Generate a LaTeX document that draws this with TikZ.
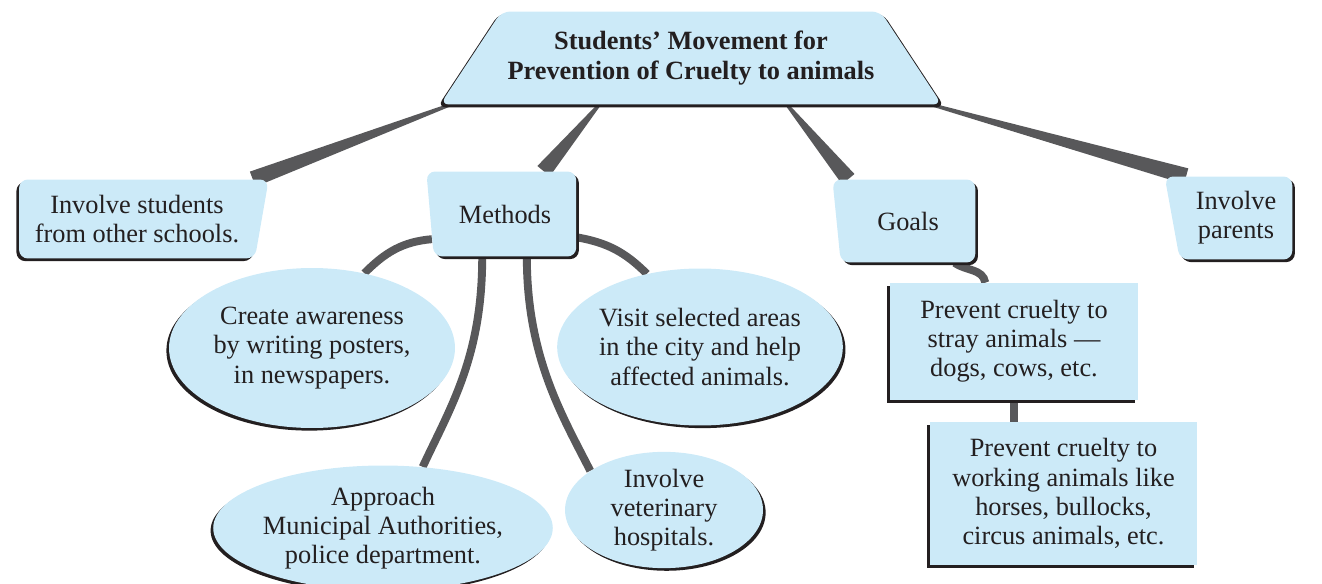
\documentclass[tikz,border=0pt]{standalone}
\usepackage{fontspec}
\setmainfont{Liberation Serif}
\usepackage{tikz}
\usetikzlibrary{shapes.geometric,shadows,backgrounds,calc}
\definecolor{cielo}{HTML}{CCEAF8}
\definecolor{tinta}{HTML}{231F20}
\definecolor{banda}{HTML}{58585A}

% tapered band: thin at the first anchor, wide at the second
\newcommand{\cuna}[2]{%
  \fill[banda] ($(#1)!0.9pt!90:(#2)$) -- ($(#1)!0.9pt!-90:(#2)$)
    -- ($(#2)!4.6pt!90:(#1)$) -- ($(#2)!4.6pt!-90:(#1)$) -- cycle;}

\begin{document}
\begin{tikzpicture}[x=0.02cm, y=-0.02cm,
      font=\fontsize{15}{16.6}\selectfont, text=tinta,
      base/.style={fill=cielo, inner sep=0pt, align=center},
      shl/.style={drop shadow={shadow xshift=-1.5pt, shadow yshift=-1.5pt, opacity=1, fill=tinta}},
      shr/.style={drop shadow={shadow xshift=1.5pt, shadow yshift=-1.5pt, opacity=1, fill=tinta}},
      card/.style={base, trapezium, trapezium stretches=true, rounded corners=5pt},
      oval/.style={base, ellipse},
      note/.style={base, rectangle},
      link/.style={draw=banda, line width=4.5pt}]

    \useasboundingbox (0,0) rectangle (1322,584);

    \node[card, trapezium left angle=42, trapezium right angle=42,
          minimum width=10.04cm, minimum height=1.86cm,
          font=\fontsize{15}{16.6}\selectfont\bfseries,
          drop shadow={shadow scale=1.012, shadow xshift=0pt, shadow yshift=-1.3pt, opacity=1, fill=tinta}]
          (title) at (691,58) {Students’ Movement for\\Prevention of Cruelty to animals};

    \node[card, shl, trapezium left angle=90, trapezium right angle=104,
          minimum width=5cm, minimum height=1.58cm] (stud) at (137,219) {Involve students\\from other schools.};
    \node[card, shr, trapezium left angle=104.5, trapezium right angle=90,
          minimum width=3cm, minimum height=1.7cm] (meth) at (505,214) {Methods};
    \node[card, shr, trapezium left angle=101.5, trapezium right angle=90,
          minimum width=2.86cm, minimum height=1.66cm] (goals) at (908,221) {Goals};
    \node[card, shr, trapezium left angle=101.5, trapezium right angle=90,
          minimum width=2.56cm, minimum height=1.66cm] (par) at (1236,218) {Involve\\parents};

    % methods
    \node[oval, shl, minimum width=5.72cm, minimum height=3.2cm] (aware) at (312,348)
          {Create awareness\\by writing posters,\\in newspapers.};
    \node[oval, shr, minimum width=5.1cm, minimum height=3.14cm] (visit) at (700,347)
          {Visit selected areas\\in the city and help\\affected animals.};
    \node[oval, shr, minimum width=3.96cm, minimum height=2.2cm] (vet) at (664,510)
          {Involve\\veterinary\\hospitals.};
    \node[oval, shl, minimum width=6cm, minimum height=2.5cm] (appr) at (383,528)
          {Approach\\Municipal Authorities,\\police department.};

    % goals
    \node[note, shl, minimum width=4.96cm, minimum height=2.34cm] (stray) at (1014,341.5)
          {Prevent cruelty to\\stray animals ---\\dogs, cows, etc.};
    \node[note, shl, minimum width=5.34cm, minimum height=2.86cm] (work) at (1063.5,493.5)
          {Prevent cruelty to\\working animals like\\horses, bullocks,\\circus animals, etc.};

    \begin{scope}[on background layer]
      \cuna{title.191}{stud.19}
      \cuna{title.207}{meth.48}
      \cuna{title.334}{goals.145}
      \cuna{title.349}{par.140}
      \draw[link] (meth.199) to[out=185,in=45] (aware.55);
      \draw[link] (meth.242) .. controls +(0,100) and +(28,-60) .. (appr.57);
      \draw[link] (meth.297) .. controls +(0,100) and +(-28,-55) .. (vet.152);
      \draw[link] (meth.342) to[out=-10,in=135] (visit.126);
      \draw[link] (goals.318) to[out=-35,in=100] (stray.116);
      \draw[link] (stray.south) -- (stray.south |- work.north);
    \end{scope}
  \end{tikzpicture}
\end{document}
